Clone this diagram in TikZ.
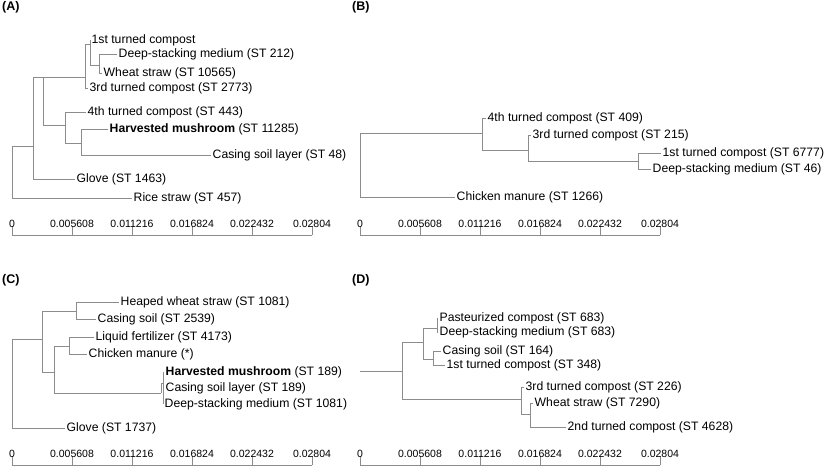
\documentclass[tikz,border=0pt]{standalone}
\usepackage{fontspec}
\setmainfont{Liberation Sans}
\definecolor{treegray}{RGB}{140,140,140}
\begin{document}
\begin{tikzpicture}[x=1pt,y=-1pt,
  edge/.style={draw=treegray,line width=0.8pt},
  leaf/.style={anchor=west,inner sep=1.5pt,font=\fontsize{12.2}{14}\selectfont},
  panel/.style={anchor=west,inner sep=0pt,font=\fontsize{12.5}{15}\selectfont\bfseries},
  ticklab/.style={anchor=base,inner sep=0pt,font=\fontsize{10.5}{12}\selectfont}]
\useasboundingbox (0,0) rectangle (827,467);

% (A)
\node[panel] (labA) at (2,7) {(A)};
\coordinate (aR) at (12,146);
\coordinate (a1) at (33,146);
\coordinate (a2) at (43,77);
\coordinate (a3) at (85,77);
\coordinate (a4) at (90,44);
\coordinate (a5) at (99,65);
\coordinate (a6) at (65,125);
\coordinate (a7) at (81,143);
\node[leaf] (aFirst) at (90,40) {1st turned compost};
\node[leaf] (aDeep) at (117,54) {Deep-stacking medium (ST 212)};
\node[leaf] (aWheat) at (102,73) {Wheat straw (ST 10565)};
\node[leaf] (aThird) at (88,88) {3rd turned compost (ST 2773)};
\node[leaf] (aFourth) at (86,112) {4th turned compost (ST 443)};
\node[leaf] (aMush) at (108,129) {\textbf{Harvested mushroom} (ST 11285)};
\node[leaf] (aCasing) at (211,155) {Casing soil layer (ST 48)};
\node[leaf] (aGlove) at (75,179) {Glove (ST 1463)};
\node[leaf] (aRice) at (132,198) {Rice straw (ST 457)};
\draw[edge] (aR) |- (a1) (aR) |- (aRice.west);
\draw[edge] (a1) |- (a2) (a1) |- (aGlove.west);
\draw[edge] (a2) |- (a3) (a2) |- (a6);
\draw[edge] (a3) |- (a4) (a3) |- (aThird.west);
\draw[edge] (a4) |- (aFirst.west) (a4) |- (a5);
\draw[edge] (a5) |- (aDeep.west) (a5) |- (aWheat.west);
\draw[edge] (a6) |- (aFourth.west) (a6) |- (a7);
\draw[edge] (a7) |- (aMush.west) (a7) |- (aCasing.west);

% (B)
\node[panel] (labB) at (352,7) {(B)};
\coordinate (bR) at (360,133);
\coordinate (b1) at (482,133);
\coordinate (b2) at (528,150);
\coordinate (b3) at (638,161);
\node[leaf] (bFourth) at (486,118) {4th turned compost (ST 409)};
\node[leaf] (bThird) at (531,135) {3rd turned compost (ST 215)};
\node[leaf] (bFirst) at (661,153) {1st turned compost (ST 6777)};
\node[leaf] (bDeep) at (651,169) {Deep-stacking medium (ST 46)};
\node[leaf] (bChick) at (455,197) {Chicken manure (ST 1266)};
\draw[edge] (bR) |- (b1) (bR) |- (bChick.west);
\draw[edge] (b1) |- (bFourth.west) (b1) |- (b2);
\draw[edge] (b2) |- (bThird.west) (b2) |- (b3);
\draw[edge] (b3) |- (bFirst.west) (b3) |- (bDeep.west);

% (C)
\node[panel] (labC) at (2,280) {(C)};
\coordinate (cR) at (12,339);
\coordinate (c1) at (42,339);
\coordinate (c2) at (76,311);
\coordinate (c3) at (54,372);
\coordinate (c4) at (69,346);
\coordinate (c5) at (161,393);
\coordinate (c6) at (163,383);
\node[leaf] (cHeap) at (119,302) {Heaped wheat straw (ST 1081)};
\node[leaf] (cCasing) at (96,319) {Casing soil (ST 2539)};
\node[leaf] (cLiquid) at (94,337) {Liquid fertilizer (ST 4173)};
\node[leaf] (cChick) at (87,354) {Chicken manure (*)};
\node[leaf] (cMush) at (164,372) {\textbf{Harvested mushroom} (ST 189)};
\node[leaf] (cLayer) at (164,388) {Casing soil layer (ST 189)};
\node[leaf] (cDeep) at (163,404) {Deep-stacking medium (ST 1081)};
\node[leaf] (cGlove) at (65,428) {Glove (ST 1737)};
\draw[edge] (cR) |- (c1) (cR) |- (cGlove.west);
\draw[edge] (c1) |- (c2) (c1) |- (c3);
\draw[edge] (c2) |- (cHeap.west) (c2) |- (cCasing.west);
\draw[edge] (c3) |- (c4) (c3) |- (c5);
\draw[edge] (c4) |- (cLiquid.west) (c4) |- (cChick.west);
\draw[edge] (c5) |- (c6);
\draw[edge] (c6) |- (cMush.west) (c6) |- (cLayer.west) (c6) |- (cDeep.west);

% (D)
\node[panel] (labD) at (352,280) {(D)};
\coordinate (dR) at (360,371);
\coordinate (d1) at (402,371);
\coordinate (d2) at (423,342);
\coordinate (d3) at (437,328);
\coordinate (d4) at (433,359);
\coordinate (d5) at (521,399);
\coordinate (d6) at (530,414);
\node[leaf] (dPast) at (438,318) {Pasteurized compost (ST 683)};
\node[leaf] (dDeep) at (438,332) {Deep-stacking medium (ST 683)};
\node[leaf] (dCasing) at (441,351) {Casing soil (ST 164)};
\node[leaf] (dFirst) at (445,365) {1st turned compost (ST 348)};
\node[leaf] (dThird) at (524,387) {3rd turned compost (ST 226)};
\node[leaf] (dWheat) at (533,403) {Wheat straw (ST 7290)};
\node[leaf] (dSecond) at (566,427) {2nd turned compost (ST 4628)};
\draw[edge] (dR) -- (d1);
\draw[edge] (d1) |- (d2) (d1) |- (d5);
\draw[edge] (d2) |- (d3) (d2) |- (d4);
\draw[edge] (d3) |- (dPast.west) (d3) |- (dDeep.west);
\draw[edge] (d4) |- (dCasing.west) (d4) |- (dFirst.west);
\draw[edge] (d5) |- (dThird.west) (d5) |- (d6);
\draw[edge] (d6) |- (dWheat.west) (d6) |- (dSecond.west);

% scale bars
\foreach \ox/\oy in {12/235,360/235,12/465,360/465}{
  \draw[edge] (\ox,\oy) -- ++(300,0);
  \foreach \i/\lab in {0/0,1/0.005608,2/0.011216,3/0.016824,4/0.022432,5/0.02804}{
    \draw[edge] (\ox+60*\i,\oy) -- ++(0,-9);
    \node[ticklab] (tick-\ox-\oy-\i) at (\ox+60*\i,\oy-7.5) {\lab};
  }
}
\end{tikzpicture}
\end{document}
